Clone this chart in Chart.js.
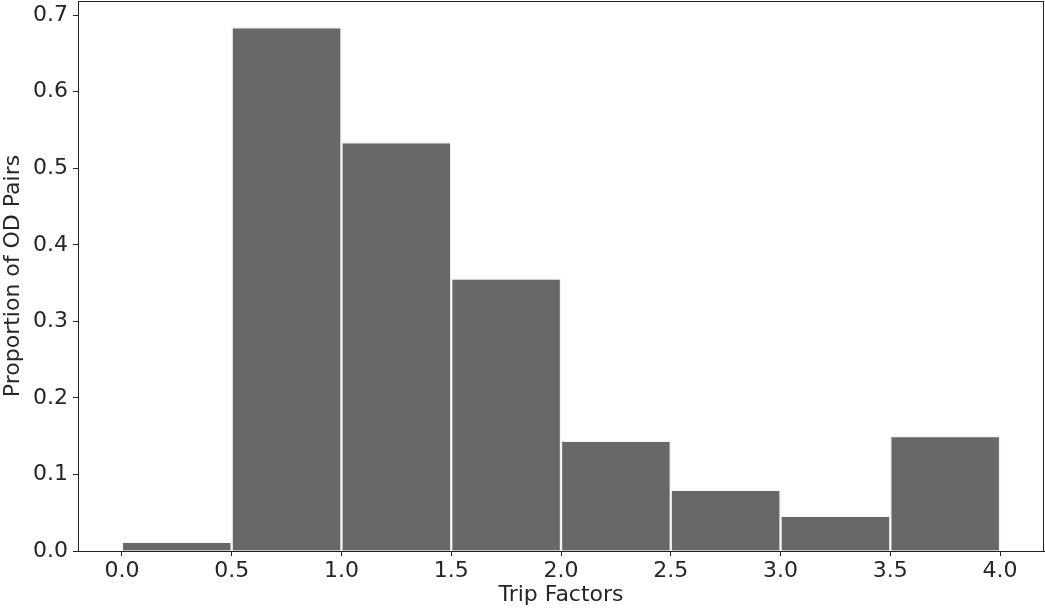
<!DOCTYPE html>
<html>
<head>
<meta charset="utf-8">
<script src="https://cdn.jsdelivr.net/npm/chart.js@4/dist/chart.umd.min.js"></script>
<style>
  html, body { margin: 0; padding: 0; background: #fff; }
  #wrap { width: 1045px; height: 610px; position: relative; }
</style>
</head>
<body>
<div id="wrap"><canvas id="c" width="1045" height="610"></canvas></div>
<script>
// Histogram bins (edges) and density values per bin
const binEdges = [0.0, 0.5, 1.0, 1.5, 2.0, 2.5, 3.0, 3.5, 4.0];
const proportions = [0.012, 0.684, 0.534, 0.356, 0.144, 0.080, 0.046, 0.150];
const xTickValues = [0.0, 0.5, 1.0, 1.5, 2.0, 2.5, 3.0, 3.5, 4.0];
const yTickValues = [0.0, 0.1, 0.2, 0.3, 0.4, 0.5, 0.6, 0.7];
const xLabel = 'Trip Factors';
const yLabel = 'Proportion of OD Pairs';

const points = proportions.map((v, i) => ({ x: (binEdges[i] + binEdges[i + 1]) / 2, y: v }));

const frame = {
  id: 'frame',
  afterDraw(chart) {
    const a = chart.chartArea, ctx = chart.ctx;
    ctx.save();
    ctx.strokeStyle = '#222';
    ctx.lineWidth = 1;
    ctx.strokeRect(Math.round(a.left) + 0.5, Math.round(a.top) + 0.5,
                   Math.round(a.right - a.left) - 1, Math.round(a.bottom - a.top));
    ctx.restore();
  }
};

const tickFont = { family: 'DejaVu Sans', size: 22 };
const titleFont = { family: 'DejaVu Sans', size: 22 };

new Chart(document.getElementById('c'), {
  type: 'bar',
  data: {
    datasets: [{
      data: points,
      backgroundColor: '#686868',
      borderColor: '#f4f4f4',
      borderWidth: 1.5,
      borderSkipped: 'bottom',
      barPercentage: 1.0,
      categoryPercentage: 1.0
    }]
  },
  options: {
    responsive: false,
    animation: false,
    devicePixelRatio: 1,
    layout: { padding: { top: 1, right: 1, left: 0, bottom: 0 } },
    plugins: { legend: { display: false }, tooltip: { enabled: false } },
    scales: {
      x: {
        type: 'linear',
        min: -0.2,
        max: 4.2,
        offset: false,
        afterBuildTicks: (s) => { s.ticks = xTickValues.map(v => ({ value: v })); },
        afterFit: (s) => { s.height = 59; s.paddingLeft = 0; s.paddingRight = 0; },
        ticks: {
          color: '#262626',
          font: tickFont,
          padding: 2,
          maxRotation: 0,
          autoSkip: false,
          callback: (v) => Number(v).toFixed(1)
        },
        grid: { offset: false, drawOnChartArea: false, tickLength: 5, tickColor: '#222' },
        border: { color: '#222' },
        title: { display: true, text: xLabel, color: '#262626', font: titleFont, padding: { top: 0, bottom: 2 } }
      },
      y: {
        type: 'linear',
        min: 0,
        max: 0.7185,
        afterBuildTicks: (s) => { s.ticks = yTickValues.map(v => ({ value: v })); },
        afterFit: (s) => { s.width = 78; s.paddingTop = 0; s.paddingBottom = 0; },
        ticks: {
          color: '#262626',
          font: tickFont,
          padding: 5,
          autoSkip: false,
          callback: (v) => Number(v).toFixed(1)
        },
        grid: { offset: false, drawOnChartArea: false, tickLength: 5, tickColor: '#222' },
        border: { color: '#222' },
        title: { display: true, text: yLabel, color: '#262626', font: titleFont, padding: { top: 0, bottom: 0 } }
      }
    }
  },
  plugins: [frame]
});
</script>
</body>
</html>
